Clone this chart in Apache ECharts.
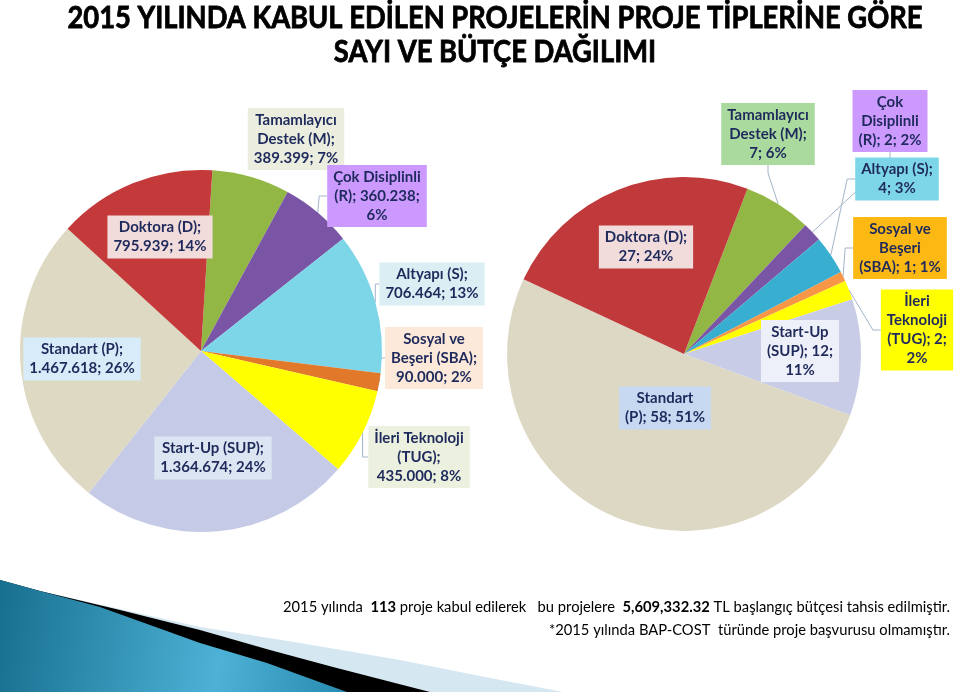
<!DOCTYPE html>
<html><head><meta charset="utf-8">
<script src="https://cdn.jsdelivr.net/npm/echarts@6/dist/echarts.min.js"></script>
<style>html,body{margin:0;padding:0;background:#fff}#c{width:960px;height:692px}</style>
</head><body><div id="c"></div>
<script>
// ---- data ----
const categories = ['Tamamlayıcı Destek (M)','Çok Disiplinli (R)','Altyapı (S)','Sosyal ve Beşeri (SBA)','İleri Teknoloji (TUG)','Start-Up (SUP)','Standart (P)','Doktora (D)'];
const budgetValues = [389399, 360238, 706464, 90000, 435000, 1364674, 1467618, 795939];
const countValues = [7, 2, 4, 1, 2, 12, 58, 27];
const titleLines = ['2015 YILINDA KABUL EDİLEN PROJELERİN PROJE TİPLERİNE GÖRE', 'SAYI VE BÜTÇE DAĞILIMI'];
const noteParts = [['2015 yılında  ', false], ['113', true], [' proje kabul edilerek   bu projelere  ', false], ['5,609,332.32', true], [' TL başlangıç bütçesi tahsis edilmiştir.', false]];
const note2 = '*2015 yılında BAP-COST  türünde proje başvurusu olmamıştır.';

// ---- styles / layout ----
const sliceColorsLeft = ['#93B744','#7A55A5','#7DD6E8','#E2782A','#FFFF00','#C5CAE6','#DDD9C3','#C43A3A'];
const sliceColorsRight = ['#93B744','#7A55A5','#38AED1','#F79646','#FFFF00','#C8CCE6','#DDD8C4','#C0393B'];
const labelBgLeft = ['#EBEEDF','#CC99FF','#DBEEF3','#FDE9D9','#EBF1DE','#DCE6F2','#D7EBF8','#F2DCDB'];
const labelBgRight = ['#ABDA9E','#CC99FF','#7DD6E8','#FDB913','#FFFF00','#EDF0F8','#C6D9F1','#F2DCDB'];
const labelPosLeft = [[296,139],[377,196],[432,284],[434,358],[419,457],[213,458],[82,359],[160,237]];
const labelPosRight = [[768,134],[890,121],[897,179],[900,248],[917,330],[800,351],[665,408],[646,247]];
const outsideLeft = [false,true,true,true,true,false,false,false];
const outsideRight = [true,true,true,true,true,false,false,false];
const breaksLeft = [[1,2,2],[2,2,1],[2,2],[2,2,2],[2,1,2],[2,2],[2,2],[2,2]];
const breaksRight = [[1,2,2],[1,1,3],[2,2],[2,1,3],[1,1,2,1],[1,2,1],[1,3],[2,2]];

function fmt(v){ return String(v).replace(/\B(?=(\d{3})+(?!\d))/g, '.'); }
function buildLabel(name, valueText, pct, breaks){
  const words = (name + '; ' + valueText + '; ' + pct + '%').split(' ');
  const lines = []; let i = 0;
  breaks.forEach(n => { lines.push(words.slice(i, i + n).join(' ')); i += n; });
  return lines.join('\n');
}
function makeSeries(values, center, radius, startAngle, colors, bgs, pos, outside, breaks){
  return {
    type: 'pie', center: center, radius: radius, startAngle: startAngle, clockwise: true,
    avoidLabelOverlap: false, percentPrecision: 0, animation: false,
    data: values.map((v, i) => ({
      name: categories[i], value: v, itemStyle: { color: colors[i] },
      label: { position: outside[i] ? 'outside' : 'inside', backgroundColor: bgs[i] },
      labelLine: { show: outside[i] }
    })),
    label: {
      show: true, color: '#1F2A5C', fontFamily: 'Lato', fontWeight: 'bold', fontSize: 15, lineHeight: 19,
      align: 'center', padding: [3, 6, 2, 6],
      formatter: p => buildLabel(p.name, fmt(p.value), p.percent, breaks[p.dataIndex])
    },
    labelLine: { lineStyle: { color: '#A3B5C9', width: 1 }, length: 8, length2: 8, smooth: false },
    labelLayout: p => ({ x: pos[p.dataIndex][0], y: pos[p.dataIndex][1], align: 'center', verticalAlign: 'middle' }),
    emphasis: { disabled: true }
  };
}

const cv = document.createElement('canvas').getContext('2d');
function measure(text, font){ cv.font = font; return cv.measureText(text).width; }
const titleFont = 'bold 30px Lato';
const titleScale = 855 / measure(titleLines[0], titleFont);
const noteFontN = '16px Lato', noteFontB = 'bold 16px Lato';
let noteW = 0; noteParts.forEach(p => { noteW += measure(p[0], p[1] ? noteFontB : noteFontN); });
const noteScale = 667 / noteW;
const noteText = noteParts.map(p => p[1] ? '{b|' + p[0] + '}' : p[0]).join('');

const chart = echarts.init(document.getElementById('c'));
chart.setOption({
  backgroundColor: '#ffffff',
  animation: false,
  graphic: [
    { type: 'polygon', z: 1, z2: 1, shape: { points: [[0,580],[40,591],[120,609],[200,627],[300,643],[400,660],[480,676],[563,692],[0,692]] }, style: { fill: '#D5E7F0' } },
    { type: 'polygon', z: 1, z2: 2, shape: { points: [[0,580],[40,591],[120,610],[200,630],[270,650],[333,667],[430,692],[0,692]] }, style: { fill: '#000000' } },
    { type: 'polygon', z: 1, z2: 3, shape: { points: [[0,580],[40,591],[100,607],[200,643],[267,663],[347,692],[0,692]] },
      style: { fill: new echarts.graphic.LinearGradient(0, 0, 1, 0.4, [
        { offset: 0, color: '#176F8F' }, { offset: 0.65, color: '#4DB2D6' }, { offset: 1, color: '#2A8DB2' }]) } },
    { type: 'text', x: 495, y: 18, scaleX: titleScale, style: { text: titleLines[0], font: titleFont, fill: '#000', stroke: '#000', lineWidth: 0.8, align: 'center', verticalAlign: 'middle' } },
    { type: 'text', x: 495, y: 52, scaleX: titleScale, style: { text: titleLines[1], font: titleFont, fill: '#000', stroke: '#000', lineWidth: 0.8, align: 'center', verticalAlign: 'middle' } },
    { type: 'text', x: 950, y: 607, scaleX: noteScale, style: { text: noteText, font: noteFontN, fill: '#000', align: 'right', verticalAlign: 'middle', rich: { b: { fontWeight: 'bold', fontFamily: 'Lato', fontSize: 16 } } } },
    { type: 'text', x: 950, y: 630, scaleX: noteScale, style: { text: note2, font: noteFontN, fill: '#000', align: 'right', verticalAlign: 'middle' } }
  ],
  series: [
    makeSeries(budgetValues, [201, 351], 181, 86.4, sliceColorsLeft, labelBgLeft, labelPosLeft, outsideLeft, breaksLeft),
    makeSeries(countValues, [684, 354], 177, 69, sliceColorsRight, labelBgRight, labelPosRight, outsideRight, breaksRight)
  ]
});
</script>
</body></html>
